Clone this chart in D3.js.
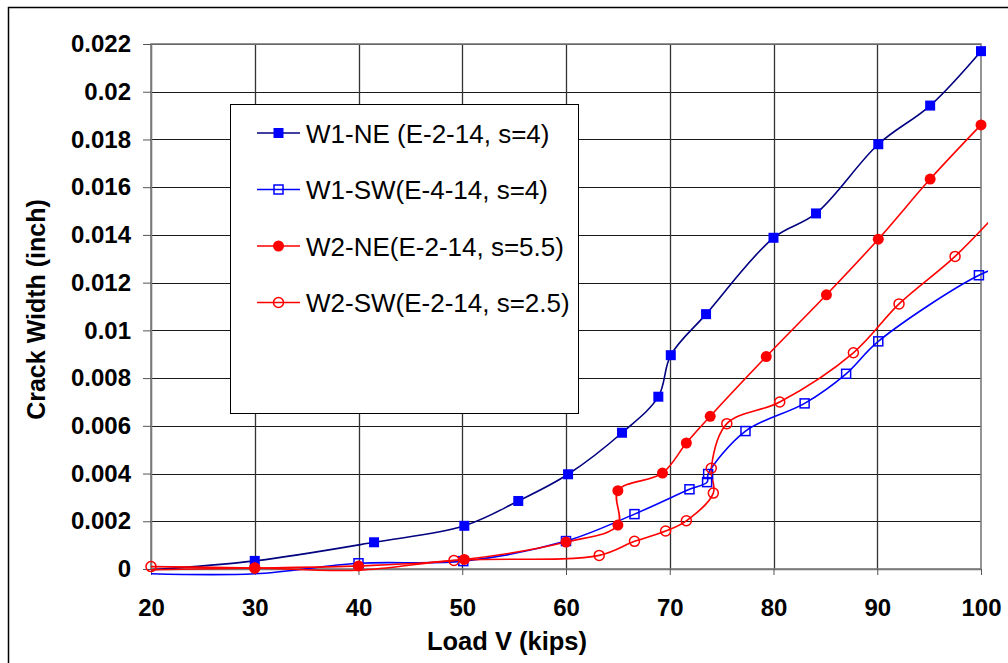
<!DOCTYPE html>
<html>
<head>
<meta charset="utf-8">
<script src="https://cdn.jsdelivr.net/npm/d3@7"></script>
<style>
  body { margin: 0; background: #fff; }
  svg { display: block; font-family: "Liberation Sans", Arial, sans-serif; }
</style>
</head>
<body>
<div id="chart"></div>
<script>
// load (kips) vs crack width (inch)
const w1neLoad  = [20, 30, 41.5, 50.2, 55.4, 60.2, 65.4, 68.9, 70.1, 73.5, 80.0, 84.1, 90.1, 95.1, 100];
const w1neWidth = [-0.00003, 0.00034, 0.00112, 0.00181, 0.00285, 0.00397, 0.00571, 0.00722, 0.00896, 0.01068, 0.01388, 0.0149, 0.0178, 0.01942, 0.0217];

const w1swLoad  = [20, 30, 40, 50.1, 60.0, 66.6, 71.9, 73.6, 73.7, 77.3, 83.0, 87.0, 90.1, 99.8, 103];
const w1swWidth = [-0.0002, -0.0002, 0.00024, 0.00033, 0.00117, 0.0023, 0.00334, 0.00364, 0.00398, 0.00578, 0.00694, 0.00818, 0.00954, 0.01231, 0.0128];

const w2neLoad  = [20, 30, 40, 50.2, 60.0, 65.0, 65.0, 69.3, 71.6, 73.9, 79.3, 85.1, 90.1, 95.1, 100];
const w2neWidth = [-0.00003, 0.00004, 0.00013, 0.0004, 0.00113, 0.00184, 0.00328, 0.00402, 0.00528, 0.0064, 0.0089, 0.01149, 0.01382, 0.01634, 0.01861];

const w2swLoad  = [20, 30, 40, 49.2, 63.2, 66.6, 69.6, 71.6, 74.2, 74.0, 75.5, 80.6, 87.7, 92.1, 97.5, 103];
const w2swWidth = [0.0001, 0.00004, -0.00005, 0.00036, 0.00057, 0.00116, 0.00159, 0.00202, 0.00318, 0.00422, 0.00609, 0.007, 0.00906, 0.01111, 0.0131, 0.0156];

const seriesNames = ["W1-NE (E-2-14, s=4)", "W1-SW(E-4-14, s=4)", "W2-NE(E-2-14, s=5.5)", "W2-SW(E-2-14, s=2.5)"];

const xTicks = [20, 30, 40, 50, 60, 70, 80, 90, 100];
const yTicks = [0, 0.002, 0.004, 0.006, 0.008, 0.01, 0.012, 0.014, 0.016, 0.018, 0.02, 0.022];
const yTickLabels = ["0", "0.002", "0.004", "0.006", "0.008", "0.01", "0.012", "0.014", "0.016", "0.018", "0.02", "0.022"];

const width = 1008, height = 663;
const plot = {left: 151, right: 981, top: 44, bottom: 569};

const svg = d3.select("#chart").append("svg")
    .attr("width", width)
    .attr("height", height);

// chart frame (runs off the right/bottom of the picture)
svg.append("rect")
    .attr("x", 8.5).attr("y", 7.5)
    .attr("width", width + 20).attr("height", height + 20)
    .attr("fill", "#fff").attr("stroke", "#000").attr("stroke-width", 1.5);

const x = d3.scaleLinear().domain([20, 100]).range([plot.left, plot.right]);
const y = d3.scaleLinear().domain([0, 0.022]).range([plot.bottom, plot.top]);

// grid
const grid = svg.append("g");
grid.selectAll(".hg").data(yTicks.slice(1)).enter().append("line")
    .attr("x1", plot.left).attr("x2", plot.right)
    .attr("y1", d => Math.round(y(d)) + 0.5).attr("y2", d => Math.round(y(d)) + 0.5)
    .attr("stroke", "#1a1a1a").attr("stroke-width", 1);
grid.selectAll(".vg").data(xTicks.slice(1, -1)).enter().append("line")
    .attr("y1", plot.top).attr("y2", plot.bottom)
    .attr("x1", d => Math.round(x(d)) + 0.5).attr("x2", d => Math.round(x(d)) + 0.5)
    .attr("stroke", "#333").attr("stroke-width", 1.3);

svg.append("rect")
    .attr("x", plot.left).attr("y", plot.top)
    .attr("width", plot.right - plot.left).attr("height", plot.bottom - plot.top)
    .attr("fill", "none").attr("stroke", "#7a7a7a").attr("stroke-width", 1.6);

// axes
const yAxis = svg.append("g")
    .attr("transform", `translate(${plot.left},0)`)
    .call(d3.axisLeft(y).tickValues(yTicks).tickFormat((d, i) => yTickLabels[i])
        .tickSize(8).tickSizeOuter(0).tickPadding(12));
const xAxis = svg.append("g")
    .attr("transform", `translate(0,${plot.bottom})`)
    .call(d3.axisBottom(x).tickValues(xTicks).tickFormat(d3.format("d"))
        .tickSize(6).tickSizeOuter(0).tickPadding(24));

[yAxis, xAxis].forEach(a => {
  a.select(".domain").attr("stroke", "#7a7a7a").attr("stroke-width", 1.6);
  a.selectAll(".tick line").attr("stroke", "#555");
  a.selectAll("text").attr("font-size", 24).attr("font-weight", "bold")
    .attr("fill", "#000").attr("font-family", "Liberation Sans, Arial, sans-serif");
});

// axis titles
svg.append("text")
    .attr("x", 507).attr("y", 650)
    .attr("text-anchor", "middle")
    .attr("font-size", 25.5).attr("font-weight", "bold")
    .text("Load V (kips)");
svg.append("text")
    .attr("transform", `translate(45,${(plot.top + plot.bottom) / 2 + 3}) rotate(-90)`)
    .attr("text-anchor", "middle")
    .attr("font-size", 25).attr("font-weight", "bold")
    .text("Crack Width (inch)");

// series
const series = [
  {name: seriesNames[0], load: w1neLoad, width: w1neWidth, line: "#000080", mark: "#0000FF", shape: "square", filled: true},
  {name: seriesNames[1], load: w1swLoad, width: w1swWidth, line: "#0000FF", mark: "#0000FF", shape: "square", filled: false},
  {name: seriesNames[2], load: w2neLoad, width: w2neWidth, line: "#FF0000", mark: "#FF0000", shape: "circle", filled: true},
  {name: seriesNames[3], load: w2swLoad, width: w2swWidth, line: "#FF0000", mark: "#FF0000", shape: "circle", filled: false}
];

svg.append("clipPath").attr("id", "lineclip").append("rect")
    .attr("x", plot.left).attr("y", plot.top - 2)
    .attr("width", 988 - plot.left).attr("height", plot.bottom - plot.top + 9);

const line = d3.line()
    .x(d => x(d[0])).y(d => y(d[1]))
    .curve(d3.curveCatmullRom.alpha(0.5));

function drawMarker(g, s, cx, cy) {
  if (s.shape === "square") {
    const size = s.filled ? 10 : 9;
    g.append("rect")
      .attr("x", cx - size / 2).attr("y", cy - size / 2)
      .attr("width", size).attr("height", size)
      .attr("fill", s.filled ? s.mark : "none")
      .attr("stroke", s.mark).attr("stroke-width", s.filled ? 0 : 1.5);
  } else {
    g.append("circle")
      .attr("cx", cx).attr("cy", cy).attr("r", s.filled ? 5.5 : 5)
      .attr("fill", s.filled ? s.mark : "none")
      .attr("stroke", s.mark).attr("stroke-width", s.filled ? 0 : 1.5);
  }
}

series.forEach(s => {
  const pts = s.load.map((v, i) => [v, s.width[i]]);
  svg.append("path")
      .attr("clip-path", "url(#lineclip)")
      .attr("d", line(pts))
      .attr("fill", "none")
      .attr("stroke", s.line)
      .attr("stroke-width", 1.6);
});

series.forEach(s => {
  const g = svg.append("g");
  s.load.forEach((v, i) => {
    if (v > 100 || s.width[i] < 0) return;
    drawMarker(g, s, x(v), y(s.width[i]));
  });
});

// legend
const legend = svg.append("g");
legend.append("rect")
    .attr("x", 230.5).attr("y", 104.5)
    .attr("width", 348).attr("height", 309)
    .attr("fill", "#fff").attr("stroke", "#000").attr("stroke-width", 1);

series.forEach((s, i) => {
  const cy = 133 + i * 56.5;
  legend.append("line")
      .attr("x1", 257).attr("x2", 300).attr("y1", cy).attr("y2", cy)
      .attr("stroke", s.line).attr("stroke-width", 1.6);
  drawMarker(legend, s, 278.5, cy);
  legend.append("text")
      .attr("x", 306).attr("y", cy + 9.5)
      .attr("font-size", 26)
      .attr("fill", "#000")
      .text(s.name);
});
</script>
</body>
</html>
